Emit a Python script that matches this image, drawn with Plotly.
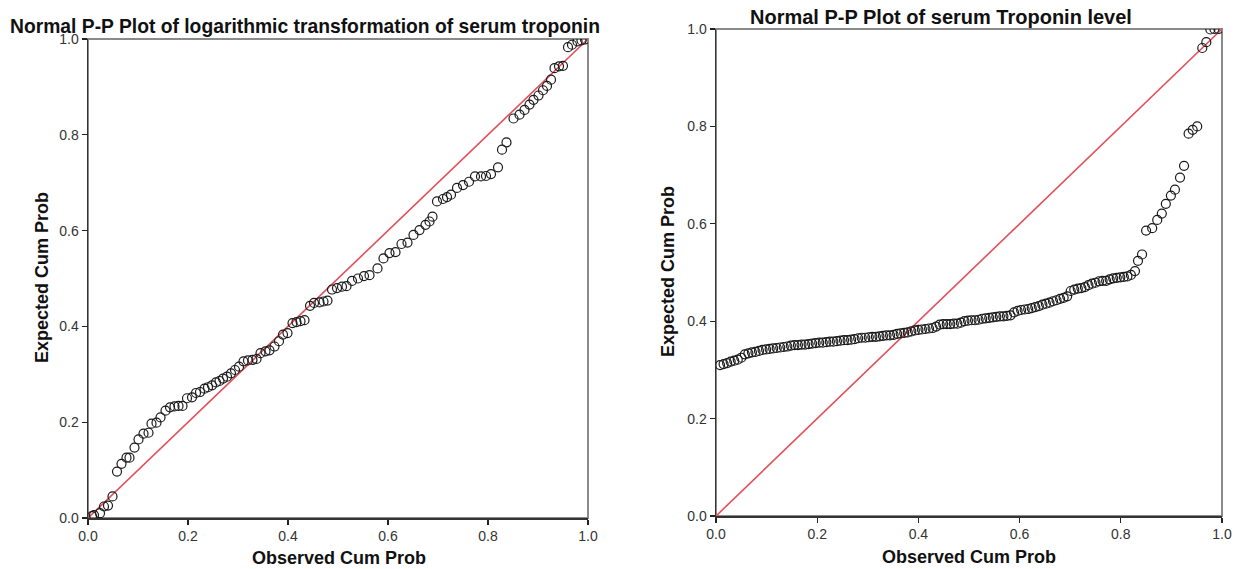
import plotly.graph_objects as go

# ---------------- data ----------------
left_title = "Normal P-P Plot of logarithmic transformation of serum troponin"
right_title = "Normal P-P Plot of serum Troponin level"
x_axis_title = "Observed Cum Prob"
y_axis_title = "Expected Cum Prob"
tick_vals = [0.0, 0.2, 0.4, 0.6, 0.8, 1.0]
tick_text = ["0.0", "0.2", "0.4", "0.6", "0.8", "1.0"]

log_observed = [0.008, 0.012, 0.024, 0.032, 0.040, 0.049, 0.058, 0.067, 0.077, 0.083,
                0.093, 0.101, 0.111, 0.121, 0.127, 0.137, 0.145, 0.155, 0.164, 0.173,
                0.181, 0.189, 0.198, 0.208, 0.216, 0.224, 0.233, 0.240, 0.248, 0.256,
                0.263, 0.270, 0.278, 0.286, 0.294, 0.302, 0.311, 0.320, 0.329, 0.337,
                0.345, 0.355, 0.363, 0.373, 0.382, 0.390, 0.399, 0.409, 0.417, 0.425,
                0.433, 0.444, 0.452, 0.463, 0.471, 0.479, 0.488, 0.498, 0.508, 0.517,
                0.528, 0.540, 0.552, 0.563, 0.579, 0.591, 0.603, 0.615, 0.627, 0.639,
                0.651, 0.663, 0.675, 0.683, 0.689, 0.698, 0.710, 0.718, 0.726, 0.738,
                0.750, 0.762, 0.774, 0.786, 0.796, 0.806, 0.820, 0.828, 0.837, 0.851,
                0.863, 0.873, 0.883, 0.891, 0.901, 0.910, 0.918, 0.926, 0.933, 0.942,
                0.950, 0.960, 0.968, 0.979, 0.987, 0.994]
log_expected = [0.004, 0.006, 0.010, 0.024, 0.026, 0.045, 0.097, 0.113, 0.126, 0.126,
                0.147, 0.164, 0.176, 0.178, 0.197, 0.199, 0.210, 0.224, 0.231, 0.233,
                0.234, 0.234, 0.250, 0.252, 0.261, 0.263, 0.270, 0.273, 0.277, 0.283,
                0.286, 0.291, 0.295, 0.302, 0.309, 0.316, 0.327, 0.329, 0.330, 0.332,
                0.344, 0.348, 0.350, 0.358, 0.369, 0.383, 0.386, 0.407, 0.409, 0.411,
                0.413, 0.443, 0.449, 0.450, 0.452, 0.454, 0.477, 0.480, 0.483, 0.484,
                0.495, 0.500, 0.505, 0.507, 0.521, 0.542, 0.553, 0.555, 0.572, 0.575,
                0.591, 0.601, 0.612, 0.619, 0.629, 0.661, 0.666, 0.670, 0.675, 0.689,
                0.695, 0.702, 0.713, 0.713, 0.714, 0.718, 0.732, 0.769, 0.784, 0.834,
                0.842, 0.852, 0.863, 0.873, 0.882, 0.893, 0.902, 0.915, 0.939, 0.943,
                0.944, 0.983, 0.988, 0.995, 0.997, 0.999]

raw_observed = [0.008, 0.015, 0.022, 0.029, 0.036, 0.043, 0.050, 0.057, 0.064, 0.071,
                0.078, 0.085, 0.092, 0.099, 0.106, 0.113, 0.120, 0.127, 0.134, 0.141,
                0.148, 0.155, 0.162, 0.169, 0.176, 0.183, 0.190, 0.197, 0.204, 0.211,
                0.218, 0.225, 0.232, 0.239, 0.246, 0.253, 0.260, 0.267, 0.274, 0.281,
                0.288, 0.295, 0.302, 0.309, 0.316, 0.323, 0.330, 0.337, 0.344, 0.351,
                0.358, 0.365, 0.372, 0.379, 0.386, 0.393, 0.400, 0.407, 0.414, 0.421,
                0.428, 0.435, 0.442, 0.449, 0.456, 0.463, 0.470, 0.477, 0.484, 0.491,
                0.498, 0.505, 0.512, 0.519, 0.526, 0.533, 0.540, 0.547, 0.554, 0.561,
                0.568, 0.575, 0.582, 0.589, 0.596, 0.603, 0.610, 0.617, 0.624, 0.631,
                0.638, 0.645, 0.652, 0.659, 0.666, 0.673, 0.680, 0.687, 0.694, 0.701,
                0.708, 0.715, 0.722, 0.729, 0.736, 0.743, 0.750, 0.757, 0.764, 0.771,
                0.778, 0.785, 0.792, 0.799, 0.806, 0.813, 0.820, 0.828, 0.834, 0.842,
                0.850, 0.862, 0.872, 0.881, 0.889, 0.899, 0.907, 0.917, 0.925, 0.934,
                0.942, 0.951, 0.961, 0.969, 0.977, 0.985, 0.993]
raw_expected = [0.310, 0.312, 0.314, 0.317, 0.319, 0.321, 0.325, 0.332, 0.334, 0.336,
                0.337, 0.339, 0.341, 0.342, 0.343, 0.344, 0.345, 0.346, 0.347, 0.348,
                0.350, 0.351, 0.351, 0.352, 0.352, 0.353, 0.354, 0.355, 0.356, 0.356,
                0.357, 0.358, 0.358, 0.359, 0.360, 0.361, 0.361, 0.362, 0.363, 0.365,
                0.366, 0.366, 0.367, 0.368, 0.368, 0.369, 0.370, 0.371, 0.371, 0.372,
                0.374, 0.375, 0.376, 0.377, 0.379, 0.381, 0.382, 0.383, 0.384, 0.385,
                0.386, 0.389, 0.393, 0.394, 0.394, 0.394, 0.395, 0.395, 0.397, 0.400,
                0.401, 0.402, 0.402, 0.403, 0.405, 0.406, 0.407, 0.408, 0.409, 0.410,
                0.410, 0.411, 0.412, 0.418, 0.421, 0.423, 0.424, 0.425, 0.427, 0.429,
                0.431, 0.434, 0.436, 0.438, 0.441, 0.443, 0.446, 0.448, 0.451, 0.462,
                0.465, 0.467, 0.468, 0.470, 0.474, 0.477, 0.479, 0.482, 0.483, 0.483,
                0.486, 0.488, 0.489, 0.490, 0.491, 0.492, 0.495, 0.503, 0.524, 0.537,
                0.586, 0.591, 0.608, 0.621, 0.641, 0.658, 0.670, 0.695, 0.719, 0.785,
                0.793, 0.800, 0.961, 0.973, 0.999, 1.000, 1.000]

ref_line = [0.0, 1.0]

# ---------------- figure ----------------
W, H = 1239, 569
FONT = "Liberation Sans, Arial, sans-serif"
RED = "#e2505a"

fig = go.Figure()

marker = dict(symbol="circle", size=9, color="rgba(255,255,255,0)",
              line=dict(color="#1a1a1a", width=1.2))

for xa, ya, xs, ys in [("x", "y", log_observed, log_expected),
                       ("x2", "y2", raw_observed, raw_expected)]:
    fig.add_trace(go.Scatter(x=ref_line, y=ref_line, mode="lines",
                             line=dict(color=RED, width=1.6),
                             xaxis=xa, yaxis=ya, showlegend=False, hoverinfo="skip"))
    fig.add_trace(go.Scatter(x=xs, y=ys, mode="markers", marker=marker,
                             xaxis=xa, yaxis=ya, showlegend=False))

def px_x(p):
    return p / W

def px_y(p):
    return 1 - p / H

axis_common = dict(range=[0, 1], tickvals=tick_vals, ticktext=tick_text,
                   ticks="outside", ticklen=5, tickcolor="#222", tickwidth=1.2,
                   showline=True, linecolor="#333", linewidth=1.5, mirror=False,
                   showgrid=False, zeroline=False, fixedrange=True, automargin=False,
                   tickfont=dict(family=FONT, size=14, color="#333"))

fig.update_layout(
    template="none",
    width=W, height=H,
    margin=dict(l=0, r=0, t=0, b=0, pad=0),
    paper_bgcolor="white", plot_bgcolor="white",
    xaxis=dict(domain=[px_x(88), px_x(588)], anchor="y", **axis_common),
    yaxis=dict(domain=[px_y(518), px_y(39)], anchor="x", **axis_common),
    xaxis2=dict(domain=[px_x(716), px_x(1222)], anchor="y2", **axis_common),
    yaxis2=dict(domain=[px_y(516), px_y(29)], anchor="x2", **axis_common),
)

# frame (top/right borders in grey)
for xr, yr in [("x domain", "y domain"), ("x2 domain", "y2 domain")]:
    fig.add_shape(type="rect", xref=xr, yref=yr, x0=0, x1=1, y0=0, y1=1,
                  line=dict(color="#8a8a8a", width=2), layer="below")

label_font = dict(family=FONT, size=18, color="#111")

annotations = [
    dict(text="<b>" + left_title + "</b>", x=px_x(305), y=px_y(27),
         font=dict(family=FONT, size=19.3, color="#111")),
    dict(text="<b>" + right_title + "</b>", x=px_x(941), y=px_y(17),
         font=dict(family=FONT, size=20, color="#111")),
    dict(text="<b>" + x_axis_title + "</b>", x=px_x(339), y=px_y(558), font=label_font),
    dict(text="<b>" + x_axis_title + "</b>", x=px_x(969), y=px_y(557), font=label_font),
    dict(text="<b>" + y_axis_title + "</b>", x=px_x(42), y=px_y(278), font=label_font, textangle=-90),
    dict(text="<b>" + y_axis_title + "</b>", x=px_x(668), y=px_y(272), font=label_font, textangle=-90),
]
for a in annotations:
    fig.add_annotation(xref="paper", yref="paper", showarrow=False,
                       xanchor="center", yanchor="middle", **a)

fig.write_html("out.html", config={"displayModeBar": False, "staticPlot": True},
               post_script="document.body.style.margin='0';document.body.style.overflow='hidden';")
